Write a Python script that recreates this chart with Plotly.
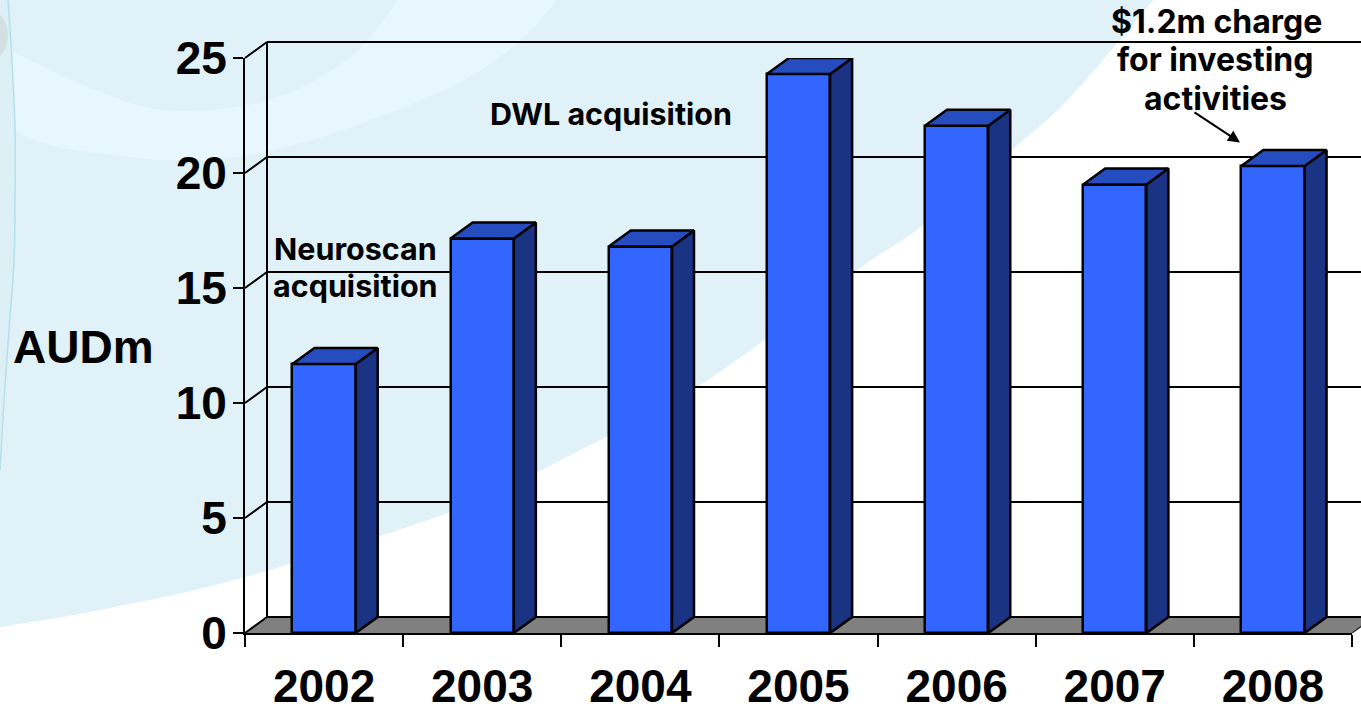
import plotly.graph_objects as go

# ---- data ----
years = ["2002", "2003", "2004", "2005", "2006", "2007", "2008"]
audm = [11.7, 17.15, 16.8, 24.3, 22.05, 19.5, 20.3]
y_ticks = [0, 5, 10, 15, 20, 25]

W, H = 1361, 707
L, R, T, B = 245, 9, 57.5, 74          # plot margins
PW, PH = W - L - R, H - T - B
BAR = 0.4                              # bar width, category units
DX = 22 / (PW / 7)                     # 3-D depth, category units
DY = 16 / (PH / 25)                    # 3-D depth, value units
BLACK = "#000000"
TEXT_FONT = "Inter"


def px(x, y):
    return (x - L) / PW, 1 - (y - T) / PH


def smooth(points, close=True):
    """Catmull-Rom path through pixel points, in paper coordinates."""
    p = [px(*q) for q in points]
    d = f"M{p[0][0]:.4f},{p[0][1]:.4f}"
    for i in range(len(p) - 1):
        a, b, c, e = p[max(i - 1, 0)], p[i], p[i + 1], p[min(i + 2, len(p) - 1)]
        c1 = (b[0] + (c[0] - a[0]) / 6, b[1] + (c[1] - a[1]) / 6)
        c2 = (c[0] - (e[0] - b[0]) / 6, c[1] - (e[1] - b[1]) / 6)
        d += f" C{c1[0]:.4f},{c1[1]:.4f} {c2[0]:.4f},{c2[1]:.4f} {c[0]:.4f},{c[1]:.4f}"
    return d + (" Z" if close else "")


def bg(points, color):
    return dict(type="path", xref="paper", yref="paper", layer="below",
                path=smooth(points), fillcolor=color, line=dict(width=0))


shapes = [
    # pale blue swoosh
    bg([(-5, -5), (1158, -5), (1153, 0), (1070, 97), (1011, 150), (920, 227), (857, 270),
        (703, 383), (570, 455), (450, 512), (245, 577), (100, 610), (0, 627), (-5, 628)], "#E0F1F8"),
    # lighter crescent
    bg([(10, 50), (90, 87), (167, 110), (267, 100), (350, 57), (397, 0), (397, -5), (562, -5), (557, 0),
        (517, 43), (450, 87), (333, 133), (233, 157), (133, 157), (15, 130), (10, 50)], "#E8F6FD"),
    bg([(-5, -5), (9, -5), (12, 60), (15, 130), (15, 200), (14, 260), (9, 330), (4, 400), (0, 470), (-5, 480)], "#DDF0F6"),
    dict(type="path", xref="paper", yref="paper", layer="below",
         path=smooth([(8, 0), (12, 60), (15, 130), (15, 200), (14, 260), (9, 330), (4, 400), (0, 470)], close=False),
         line=dict(color="#B5E0EA", width=1.5)),
    dict(type="circle", xref="paper", yref="paper", layer="below",
         x0=px(-22, 0)[0], x1=px(8, 0)[0], y0=px(0, 58)[1], y1=px(0, 12)[1],
         fillcolor="#D3DFE3", line=dict(width=0)),
]


def seg(x0, y0, x1, y1, width=2, color=BLACK):
    """A line given in category / value units, unclipped."""
    return dict(type="line", xref="paper", yref="paper", layer="below",
                x0=(x0 + 0.5) / 7, x1=(x1 + 0.5) / 7, y0=y0 / 25, y1=y1 / 25,
                line=dict(color=color, width=width))


n = len(years)
x_left, x_right = -0.5, n - 0.5

# floor
shapes.append(dict(type="path", xref="paper", yref="paper", layer="below",
                   path=f"M0,0 L1,0 L{1 + DX / 7},{DY / 25} L{DX / 7},{DY / 25} Z",
                   fillcolor="#808080", line=dict(width=0)))
# back wall + side wall lines
for t in y_ticks:
    shapes.append(seg(x_left + DX, t + DY, x_right + DX, t + DY))
    shapes.append(seg(x_left, t, x_left + DX, t + DY))
shapes.append(seg(x_left + DX, DY, x_left + DX, y_ticks[-1] + DY))
shapes.append(seg(x_right, 0, x_right + DX, DY, width=1.5, color="#333333"))

side_x, side_y, top_x, top_y = [], [], [], []
for i, v in enumerate(audm):
    a, b = i - BAR / 2, i + BAR / 2
    side_x += [b, b + DX, b + DX, b, b, None]
    side_y += [0, DY, v + DY, v, 0, None]
    top_x += [a, b, b + DX, a + DX, a, None]
    top_y += [v, v, v + DY, v + DY, v, None]

fig = go.Figure()
fig.add_trace(go.Bar(x=list(range(n)), y=audm, width=BAR,
                     marker=dict(color="#3366FF", line=dict(color=BLACK, width=2.5)),
                     hoverinfo="y", showlegend=False))
fig.add_trace(go.Scatter(x=side_x, y=side_y, mode="lines", fill="toself", fillcolor="#1A3382",
                         line=dict(color=BLACK, width=2.5), cliponaxis=False,
                         hoverinfo="skip", showlegend=False))
fig.add_trace(go.Scatter(x=top_x, y=top_y, mode="lines", fill="toself", fillcolor="#264DBF",
                         line=dict(color=BLACK, width=2.5), cliponaxis=False,
                         hoverinfo="skip", showlegend=False))


def note(text, cx, cy, size=30.5):
    x, y = px(cx, cy)
    return dict(text=f"<b>{text}</b>", xref="paper", yref="paper", x=x, y=y, showarrow=False,
                xanchor="center", yanchor="middle",
                font=dict(family=TEXT_FONT, size=size, color=BLACK))


annotations = [
    note("Neuroscan", 355, 248),
    note("acquisition", 355, 285),
    note("DWL acquisition", 611, 113),
    note("$1.2m charge", 1216, 21, 32),
    note("for investing", 1215, 59, 32),
    note("activities", 1215, 98, 32),
]
ax1, ay1 = px(1240, 142)
annotations.append(dict(xref="paper", yref="paper", x=ax1, y=ay1, axref="pixel", ayref="pixel",
                        ax=-47, ay=-31, text="", showarrow=True, arrowhead=2, arrowsize=1.2,
                        arrowwidth=2, arrowcolor=BLACK))
x, y = px(83, 347)
annotations.append(dict(text="<b>AUDm</b>", xref="paper", yref="paper", x=x, y=y, showarrow=False,
                        xanchor="center", yanchor="middle",
                        font=dict(family="Liberation Sans", size=46, color=BLACK)))

fig.update_layout(
    width=W, height=H, autosize=False,
    margin=dict(l=L, r=R, t=T, b=B, pad=0, autoexpand=False),
    paper_bgcolor="#FFFFFF", plot_bgcolor="rgba(0,0,0,0)",
    shapes=shapes, annotations=annotations, showlegend=False, bargap=0,
    xaxis=dict(range=[x_left, x_right], tickmode="array", tickvals=list(range(n)), ticktext=years,
               ticks="", showgrid=False, zeroline=False, showline=True, linecolor=BLACK, linewidth=2,
               ticklabelstandoff=12, automargin=False,
               tickfont=dict(family="Liberation Sans", size=46, color=BLACK, weight="bold"),
               minor=dict(tickmode="array", tickvals=[i - 0.5 for i in range(n + 1)], ticks="outside",
                          ticklen=12, tickcolor=BLACK, tickwidth=2, showgrid=False)),
    yaxis=dict(range=[0, 25], tickmode="array", tickvals=y_ticks, ticks="outside", ticklen=10,
               tickcolor=BLACK, tickwidth=2, showgrid=False, zeroline=False, showline=True,
               linecolor=BLACK, linewidth=2, ticklabelstandoff=-3, automargin=False,
               tickfont=dict(family="Liberation Sans", size=46, color=BLACK, weight="bold")),
)

fig.write_html("out.html", config=dict(displayModeBar=False),
               post_script="document.body.style.margin='0';")
